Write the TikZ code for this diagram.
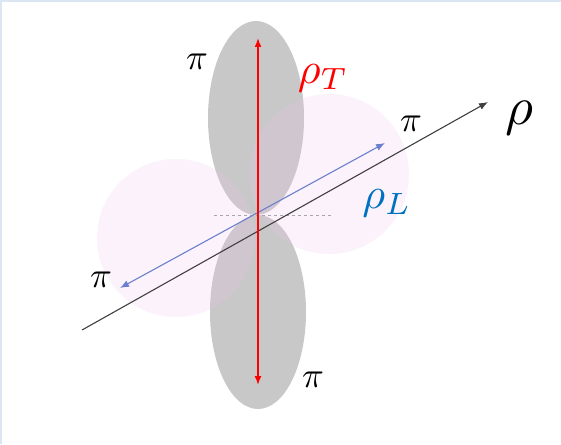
\documentclass[tikz,border=0pt]{standalone}
\usepackage{graphicx}
\usetikzlibrary{arrows.meta}
\definecolor{lobegray}{RGB}{200,200,200}
\definecolor{lobepink}{RGB}{240,190,240}
\definecolor{longblue}{RGB}{106,128,204}
\definecolor{labelblue}{RGB}{0,112,192}
\definecolor{axisgray}{RGB}{64,64,64}
\definecolor{frameblue}{RGB}{218,230,242}
\newcommand{\pilbl}{\scalebox{3.6}{$\pi$}}
\newcommand{\rholbl}[2]{\scalebox{#1}{$\rho#2$}}
\begin{document}
\begin{tikzpicture}[x=1pt, y=-1pt,
    lbl/.style={inner sep=0pt},
    pinklobe/.style={fill=lobepink, fill opacity=0.2}]
    % 1. Nen va khung
    \fill[white] (0,0) rectangle (561,444);
    \useasboundingbox (0,0) rectangle (561,444);
    \fill[frameblue] (0,0) rectangle (561,2);
    \fill[frameblue] (0,0) rectangle (2,444);

    % 2. Cac bup song
    \fill[lobegray] (256,118) ellipse [x radius=48, y radius=97];
    \fill[lobegray] (258,312) ellipse [x radius=48, y radius=97];
    \fill[pinklobe] (176,238) circle [radius=79];
    \fill[pinklobe] (329,174) circle [radius=80];

    % 3. Cac diem mut
    \coordinate (rtop) at (258,38);
    \coordinate (rbot) at (258,385);
    \coordinate (ax0) at (82,330);
    \coordinate (ax1) at (488,102);
    \coordinate (lL) at (120,288);
    \coordinate (lR) at (385,143);
    \coordinate (d0) at (214,215);
    \coordinate (d1) at (332,215);

    % 4. Duong net dut
    \draw[gray!70, dashed, line width=0.8pt] (d0) -- (d1);

    % 5. Truc va cac mui ten
    \draw[axisgray, line width=1.1pt, -{Latex[length=9pt, width=7pt]}] (ax0) -- (ax1);
    \draw[longblue, line width=1.1pt, {Latex[length=9pt, width=7pt]}-{Latex[length=9pt, width=7pt]}] (lL) -- (lR);
    \draw[red, line width=1.6pt, {Latex[length=9pt, width=7pt]}-{Latex[length=9pt, width=7pt]}] (rtop) -- (rbot);

    % 6. Nhan
    \node[lbl] (piTL) at (197,62) {\pilbl};
    \node[lbl] (piR) at (411,124) {\pilbl};
    \node[lbl] (piL) at (101,280) {\pilbl};
    \node[lbl] (piB) at (313,380) {\pilbl};
    \node[lbl, red] (rhoT) at (323,78) {\rholbl{4.4}{_T}};
    \node[lbl, labelblue] (rhoL) at (387,203) {\rholbl{4.4}{_L}};
    \node[lbl] (rho) at (519,118) {\rholbl{5.4}{}};
\end{tikzpicture}
\end{document}
